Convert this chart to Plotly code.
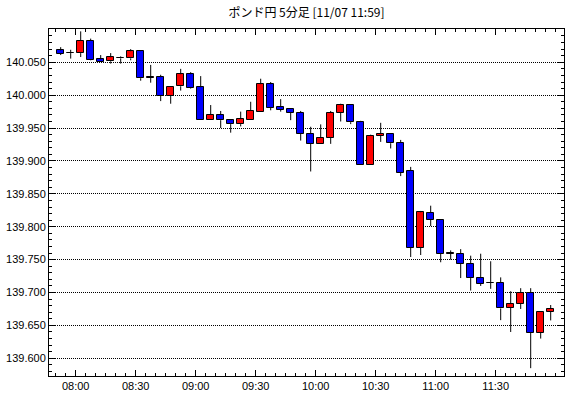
import plotly.graph_objects as go
import pandas as pd

TITLE = "ポンド円 5分足 [11/07 11:59]"
DATE = "2019-11-07"

TIMES = ["07:50", "07:55", "08:00", "08:05", "08:10", "08:15", "08:20", "08:25", "08:30", "08:35",
         "08:40", "08:45", "08:50", "08:55", "09:00", "09:05", "09:10", "09:15", "09:20", "09:25",
         "09:30", "09:35", "09:40", "09:45", "09:50", "09:55", "10:00", "10:05", "10:10", "10:15",
         "10:20", "10:25", "10:30", "10:35", "10:40", "10:45", "10:50", "10:55", "11:00", "11:05",
         "11:10", "11:15", "11:20", "11:25", "11:30", "11:35", "11:40", "11:45", "11:50", "11:55"]

OPEN = [140.068, 140.064, 140.064, 140.083, 140.0545, 140.0515, 140.056, 140.056, 140.0667, 140.0265,
        140.0273, 139.999, 140.0136, 140.0318, 140.012, 139.963, 139.970, 139.962, 139.956, 139.963,
        139.975, 140.0167, 139.982, 139.979, 139.973, 139.941, 139.926, 139.935, 139.973, 139.985,
        139.959, 139.894, 139.938, 139.941, 139.928, 139.8847, 139.768, 139.821, 139.811, 139.759,
        139.759, 139.744, 139.7225, 139.7145, 139.715, 139.677, 139.683, 139.700, 139.639, 139.671]

HIGH = [140.073, 140.069, 140.097, 140.086, 140.061, 140.064, 140.059, 140.070, 140.067, 140.046,
        140.031, 140.012, 140.040, 140.035, 140.029, 139.985, 139.976, 139.9636, 139.975, 139.990,
        140.025, 140.020, 139.994, 139.979, 139.976, 139.952, 139.9556, 139.976, 139.987, 139.985,
        139.961, 139.940, 139.958, 139.941, 139.932, 139.891, 139.824, 139.832, 139.811, 139.764,
        139.766, 139.756, 139.759, 139.7475, 139.723, 139.702, 139.7066, 139.7066, 139.671, 139.681]

LOW = [140.061, 140.0556, 140.058, 140.053, 140.051, 140.048, 140.048, 140.053, 140.022, 140.019,
       139.991, 139.987, 140.007, 140.010, 139.963, 139.963, 139.950, 139.943, 139.9525, 139.963,
       139.975, 139.977, 139.975, 139.962, 139.931, 139.884, 139.926, 139.926, 139.960, 139.956,
       139.894, 139.894, 139.929, 139.919, 139.877, 139.754, 139.757, 139.801, 139.746, 139.750,
       139.722, 139.703, 139.710, 139.7056, 139.658, 139.640, 139.675, 139.585, 139.630, 139.6576]

CLOSE = [140.063, 140.064, 140.083, 140.054, 140.051, 140.0576, 140.057, 140.0667, 140.0258, 140.027,
         139.999, 140.012, 140.0318, 140.0116, 139.963, 139.970, 139.962, 139.956, 139.9636, 139.976,
         140.0167, 139.981, 139.978, 139.973, 139.941, 139.926, 139.935, 139.973, 139.985, 139.959,
         139.894, 139.938, 139.941, 139.927, 139.882, 139.768, 139.822, 139.811, 139.759, 139.759,
         139.744, 139.722, 139.713, 139.7150, 139.6758, 139.683, 139.6995, 139.639, 139.671, 139.675]

Y_TICKS = [139.600, 139.650, 139.700, 139.750, 139.800, 139.850, 139.900, 139.950, 140.000, 140.050]
X_TICKS = ["08:00", "08:30", "09:00", "09:30", "10:00", "10:30", "11:00", "11:30"]

UP_COLOR = "#ff0000"
DOWN_COLOR = "#0000ff"

x = pd.to_datetime([f"{DATE} {t}" for t in TIMES]) + pd.Timedelta(minutes=2.5)

bases = [min(o, c) for o, c in zip(OPEN, CLOSE)]
tops = [max(o, c) for o, c in zip(OPEN, CLOSE)]
heights = [max(t - b, 0.0004) for t, b in zip(tops, bases)]
colors = [UP_COLOR if c >= o else DOWN_COLOR for o, c in zip(OPEN, CLOSE)]

# wicks: upper (high -> body top) and lower (body bottom -> low), not crossing the body
wx, wy = [], []
for xi, h, l, t, b in zip(x, HIGH, LOW, tops, bases):
    if h > t:
        wx += [xi, xi, None]
        wy += [t, h, None]
    if l < b:
        wx += [xi, xi, None]
        wy += [l, b, None]

fig = go.Figure()
fig.add_trace(go.Scatter(x=wx, y=wy, mode="lines", line=dict(color="black", width=1),
                         hoverinfo="skip", showlegend=False))
fig.add_trace(go.Bar(x=x, y=heights, base=bases, width=205000,
                     marker=dict(color=colors, line=dict(color="black", width=1)),
                     showlegend=False))

x_tickvals = pd.to_datetime([f"{DATE} {t}" for t in X_TICKS])

axis_common = dict(showline=True, linecolor="black", linewidth=1, mirror="ticks",
                   ticks="inside", ticklen=6, tickcolor="black", tickwidth=1,
                   tickfont=dict(family="Liberation Sans", size=11, color="black"))

fig.update_layout(
    width=570, height=398,
    margin=dict(l=49, r=6, t=29, b=22),
    paper_bgcolor="white", plot_bgcolor="white",
    bargap=0, barmode="overlay",
    title=dict(text=TITLE, x=0.5, xref="paper", xanchor="center",
               y=1 - 13 / 398, yref="container", yanchor="middle",
               font=dict(family="Noto Sans CJK JP", size=12, color="black")),
    xaxis=dict(type="date", range=[f"{DATE} 07:46:39", f"{DATE} 12:04:09"],
               tickmode="array", tickvals=x_tickvals, ticktext=X_TICKS,
               showgrid=False, zeroline=False,
               minor=dict(dtick=300000, tick0=f"{DATE} 08:00", ticks="inside",
                          ticklen=3, tickcolor="black", showgrid=False),
               **axis_common),
    yaxis=dict(range=[139.5731, 140.1006],
               tickmode="array", tickvals=Y_TICKS, ticktext=[f"{v:.3f}" for v in Y_TICKS],
               showgrid=True, gridcolor="black", griddash="1px,1px", gridwidth=1, zeroline=False,
               minor=dict(dtick=0.01, tick0=139.6, ticks="inside", ticklen=3,
                          tickcolor="black", showgrid=False),
               **axis_common),
)

fig.write_html("out.html")
